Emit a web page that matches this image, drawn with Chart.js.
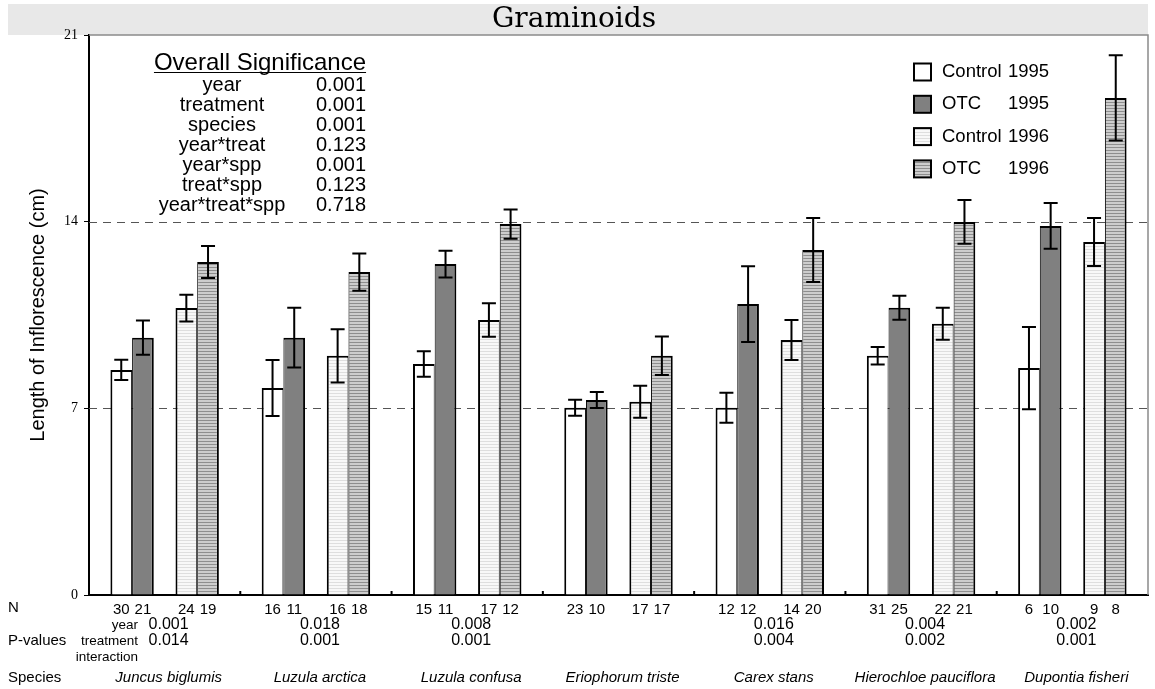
<!DOCTYPE html>
<html>
<head>
<meta charset="utf-8">
<script src="https://cdn.jsdelivr.net/npm/chart.js@4.4.1/dist/chart.umd.min.js"></script>
<style>
  html, body { margin: 0; padding: 0; background: #fff; }
</style>
</head>
<body>
<canvas id="myChart" width="1155" height="689"></canvas>
<script>
const chartCanvas = document.getElementById("myChart");

// species (one group of bars each)
const species = ["Juncus biglumis", "Luzula arctica", "Luzula confusa", "Eriophorum triste",
    "Carex stans", "Hierochloe pauciflora", "Dupontia fisheri"];

// mean length of inflorescence (cm)
const control95 = [8.44, 7.76, 8.66, 7.02, 7.02, 8.97, 8.51];
const otc95 = [9.65, 9.65, 12.41, 7.31, 10.91, 10.77, 13.84];
const control96 = [10.76, 8.97, 10.31, 7.25, 9.56, 10.17, 13.24];
const otc96 = [12.49, 12.11, 13.91, 8.97, 12.94, 13.99, 18.64];

// error bar half lengths
const errControl95 = [0.38, 1.05, 0.48, 0.30, 0.56, 0.33, 1.54];
const errOtc95 = [0.64, 1.12, 0.50, 0.30, 1.42, 0.45, 0.86];
const errControl96 = [0.50, 1.00, 0.63, 0.60, 0.75, 0.60, 0.90];
const errOtc96 = [0.60, 0.70, 0.55, 0.72, 1.20, 0.82, 1.60];

// sample sizes
const nControl95 = [30, 16, 15, 23, 12, 31, 6];
const nOtc95 = [21, 11, 11, 10, 12, 25, 10];
const nControl96 = [24, 16, 17, 17, 14, 22, 9];
const nOtc96 = [19, 18, 12, 17, 20, 21, 8];

// p-values per species
const pYear = ["0.001", "0.018", "0.008", "", "0.016", "0.004", "0.002"];
const pTreatment = ["0.014", "0.001", "0.001", "", "0.004", "0.002", "0.001"];

// overall significance table
const sigTerms = ["year", "treatment", "species", "year*treat", "year*spp", "treat*spp", "year*treat*spp"];
const sigValues = ["0.001", "0.001", "0.001", "0.123", "0.001", "0.123", "0.718"];

// legend
const legendNames = ["Control", "OTC", "Control", "OTC"];
const legendYears = ["1995", "1995", "1996", "1996"];

const yTicks = [0, 7, 14, 21];
const refLines = [7, 14];

const SANS = "'Liberation Sans', Arial, sans-serif";

// striped fills for the 1996 bars
const makeStripes = (bg, line) => {
    const c = document.createElement("canvas");
    c.width = 4;
    c.height = 3;
    const g = c.getContext("2d");
    g.fillStyle = bg;
    g.fillRect(0, 0, 4, 3);
    g.fillStyle = line;
    g.fillRect(0, 0, 4, 1);
    return chartCanvas.getContext("2d").createPattern(c, "repeat");
};

const leftBorder = {top: 2, left: 2, right: 1, bottom: 0};
const rightBorder = {top: 2, left: 1, right: 2, bottom: 0};

const datasets = [
    {data: control95, err: errControl95, n: nControl95, backgroundColor: "#ffffff", borderWidth: leftBorder},
    {data: otc95, err: errOtc95, n: nOtc95, backgroundColor: "#808080", borderWidth: rightBorder},
    {data: species.map(() => null)}, // empty slot between the two years
    {data: control96, err: errControl96, n: nControl96, backgroundColor: makeStripes("#f8f8f8", "#dedede"), borderWidth: leftBorder},
    {data: otc96, err: errOtc96, n: nOtc96, backgroundColor: makeStripes("#cdcdcd", "#8e8e8e"), borderWidth: rightBorder},
];
datasets.forEach((ds) => {
    ds.borderColor = "#000";
    ds.categoryPercentage = 0.717;
    ds.barPercentage = 1;
});

const text = (ctx, str, x, y, font, align = "left", base = "middle") => {
    ctx.font = font;
    ctx.textAlign = align;
    ctx.textBaseline = base;
    ctx.fillStyle = "#000";
    ctx.fillText(str, x, y);
};

// title band + frame + dashed lines at 7 and 14
const backdrop = {
    id: "backdrop",
    beforeDraw(chart) {
        const {ctx, chartArea} = chart;
        ctx.save();
        ctx.fillStyle = "#e8e8e8";
        ctx.fillRect(8, 4, chartArea.right - 8, chartArea.top - 4);
        ctx.restore();
    },
    beforeDatasetsDraw(chart) {
        const {ctx, chartArea, scales} = chart;
        ctx.save();
        ctx.strokeStyle = "#8a8a8a";
        ctx.lineWidth = 1.5;
        ctx.beginPath();
        ctx.moveTo(chartArea.left, chartArea.top);
        ctx.lineTo(chartArea.right, chartArea.top);
        ctx.lineTo(chartArea.right, chartArea.bottom);
        ctx.stroke();

        ctx.strokeStyle = "#555";
        ctx.lineWidth = 1;
        ctx.setLineDash([8, 6]);
        refLines.forEach((v) => {
            const y = Math.round(scales.y.getPixelForValue(v)) + 0.5;
            ctx.beginPath();
            ctx.moveTo(chartArea.left, y);
            ctx.lineTo(chartArea.right, y);
            ctx.stroke();
        });
        ctx.setLineDash([]);

        // little marks between the species groups
        ctx.strokeStyle = "#000";
        ctx.lineWidth = 2;
        for (let j = 0; j < species.length - 1; j++) {
            const x = (scales.x.getPixelForValue(j) + scales.x.getPixelForValue(j + 1)) / 2;
            ctx.beginPath();
            ctx.moveTo(x, chartArea.bottom - 4);
            ctx.lineTo(x, chartArea.bottom);
            ctx.stroke();
        }
        ctx.restore();
    },
};

const errorBars = {
    id: "errorBars",
    afterDatasetsDraw(chart) {
        const {ctx, scales} = chart;
        ctx.save();
        ctx.strokeStyle = "#000";
        ctx.lineWidth = 2;
        chart.data.datasets.forEach((ds, i) => {
            if (!ds.err) return;
            chart.getDatasetMeta(i).data.forEach((bar, j) => {
                const top = scales.y.getPixelForValue(ds.data[j] + ds.err[j]);
                const bot = scales.y.getPixelForValue(ds.data[j] - ds.err[j]);
                ctx.beginPath();
                ctx.moveTo(bar.x, top);
                ctx.lineTo(bar.x, bot);
                ctx.moveTo(bar.x - 7, top);
                ctx.lineTo(bar.x + 7, top);
                ctx.moveTo(bar.x - 7, bot);
                ctx.lineTo(bar.x + 7, bot);
                ctx.stroke();
            });
        });
        ctx.restore();
    },
};

// N / p-values / species rows, legend and the significance box
const annotations = {
    id: "annotations",
    afterDraw(chart) {
        const {ctx, chartArea, scales} = chart;
        const L = chartArea.left;
        const T = chartArea.top;
        ctx.save();

        // rows under the axis
        text(ctx, "N", 8, 608, `15px ${SANS}`);
        text(ctx, "P-values", 8, 641, `15px ${SANS}`);
        text(ctx, "Species", 8, 678, `15px ${SANS}`);
        text(ctx, "year", L + 49, 625, `13.5px ${SANS}`, "right");
        text(ctx, "treatment", L + 49, 641, `13.5px ${SANS}`, "right");
        text(ctx, "interaction", L + 49, 657, `13.5px ${SANS}`, "right");

        chart.data.datasets.forEach((ds, i) => {
            if (!ds.n) return;
            chart.getDatasetMeta(i).data.forEach((bar, j) => {
                text(ctx, String(ds.n[j]), bar.x, 610, `15px ${SANS}`, "center");
            });
        });

        species.forEach((name, j) => {
            const x = scales.x.getPixelForValue(j);
            text(ctx, pYear[j], x + 4, 625, `16px ${SANS}`, "center");
            text(ctx, pTreatment[j], x + 4, 641, `16px ${SANS}`, "center");
            text(ctx, name, x + 4, 678, `italic 15px ${SANS}`, "center");
        });

        // overall significance
        const sx = L + 171;
        text(ctx, "Overall Significance", sx, 70, `24px ${SANS}`, "center", "alphabetic");
        const w = ctx.measureText("Overall Significance").width;
        ctx.strokeStyle = "#000";
        ctx.lineWidth = 1.2;
        ctx.beginPath();
        ctx.moveTo(sx - w / 2, 72.5);
        ctx.lineTo(sx + w / 2, 72.5);
        ctx.stroke();
        sigTerms.forEach((term, i) => {
            text(ctx, term, L + 133, T + 50 + i * 20, `20px ${SANS}`, "center");
            text(ctx, sigValues[i], L + 227, T + 50 + i * 20, `20px ${SANS}`);
        });

        // legend
        const bx = chartArea.right - 234;
        [0, 1, 3, 4].forEach((di, i) => {
            const cy = T + 37 + i * 32.3;
            ctx.fillStyle = chart.data.datasets[di].backgroundColor;
            ctx.fillRect(bx, cy - 8.5, 17, 17);
            ctx.strokeStyle = "#000";
            ctx.lineWidth = 2;
            ctx.strokeRect(bx, cy - 8.5, 17, 17);
            text(ctx, legendNames[i], bx + 28, cy, `18.5px ${SANS}`);
            text(ctx, legendYears[i], bx + 94, cy, `18.5px ${SANS}`);
        });

        ctx.restore();
    },
};

const myChart = new Chart(chartCanvas, {
    type: "bar",
    data: {labels: species, datasets},
    options: {
        responsive: false,
        animation: false,
        layout: {padding: {left: 0, right: 7, top: 0, bottom: 0}},
        plugins: {
            legend: {display: false},
            tooltip: {enabled: false},
            title: {
                display: true,
                text: "Graminoids",
                color: "#000",
                font: {family: "'DejaVu Serif', serif", size: 28, weight: "normal", lineHeight: 1},
                padding: {top: 6, bottom: 1},
            },
        },
        scales: {
            x: {
                grid: {display: false},
                ticks: {display: false},
                border: {color: "#000", width: 2},
                afterFit: (scale) => { scale.height = 94; },
            },
            y: {
                min: 0,
                max: 21,
                afterBuildTicks: (scale) => { scale.ticks = yTicks.map((v) => ({value: v})); },
                ticks: {color: "#000", padding: 6, font: {family: "'Liberation Serif', serif", size: 14}},
                grid: {drawOnChartArea: false, tickLength: 5, color: "#000"},
                border: {color: "#000", width: 2},
                title: {
                    display: true,
                    text: "Length of Inflorescence (cm)",
                    color: "#000",
                    font: {family: SANS, size: 20},
                    padding: {top: 26, bottom: 0},
                },
                afterFit: (scale) => { scale.width = 89; },
            },
        },
    },
    plugins: [backdrop, errorBars, annotations],
});
</script>
</body>
</html>
